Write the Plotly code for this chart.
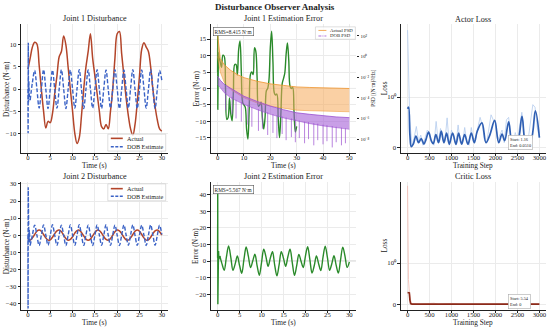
import numpy as np
import plotly.graph_objects as go

W, H = 550, 328
FONT = "Liberation Serif"

def px(x):
    return x / W

def py(y):
    return 1 - y / H

# ---------------- data ----------------
# time grid (s)
t_full = np.arange(0, 61) * 0.5          # 0 .. 30
t_main = t_full[1:]                      # 0.5 .. 30

# Joint 1 actual disturbance (N·m), t = 0..30 step 0.5
j1_actual = [4.5, 7.0, 9.5, 10.6, 10.2, 5.5, 0.0, -5.0, -8.8, -7.3, -7.6, -5.5, -1.0, 3.0, 7.3,
             8.5, 12.0, 10.0, 5.0, 0.0, -5.0, -10.0, -12.3, -11.0, -6.0, 0.0, 5.0, 8.5, 12.5,
             7.0, 3.0, -1.0, -5.0, -8.5, -9.0, -8.0, -9.0, -5.0, 0.0, 7.0, 12.5, 13.0, 8.0,
             3.0, -2.0, -6.0, -9.0, -10.5, -8.0, -3.0, 3.0, 9.0, 10.5, 9.5, 8.5, 5.0, 0.0,
             -4.0, -7.0, -9.0, -9.5]
# Joint 1 DOB estimate, t = 0.5..30
j1_dob = [-2.5, 1.5, 4.2, 0.1, -4.3, -0.1, 4.4, 0.0, -4.4, 0.1, 4.3, -0.1,
          -4.3, 0.0, 4.4, 0.1, -4.4, -0.1, 4.3, 0.0, -4.3, 0.1, 4.4, -0.1,
          -4.4, 0.0, 4.3, 0.1, -4.3, -0.1, 4.4, 0.0, -4.4, 0.1, 4.3, -0.1,
          -4.3, 0.0, 4.4, 0.1, -4.4, -0.1, 4.3, 0.0, -4.3, 0.1, 4.4, -0.1,
          -4.4, 0.0, 4.3, 0.1, -4.3, -0.1, 4.4, 0.0, -4.4, 0.1, 4.2, 2.0]
# start-up transient (t < 0.5)
j1_head_t = [0.0, 0.04, 0.08, 0.12, 0.2, 0.3, 0.5]
j1_dob_head = [0.0, -10.0, 10.5, -3.0, 1.8, -1.5, -2.5]
j1_err_head = [5.0, 16.5, -6.5, 10.0, 4.0, 11.0, 9.5]

# Joint 2 actual disturbance, t = 0..30 step 0.5
j2_actual = [-2.3, -2.9, -1.6, 0.4, 2.3, 3.0, 2.3, 0.4, -1.6, -2.9, -2.7, -1.2, 0.9, 2.5, 3.0,
             2.0, 0.0, -2.0, -3.0, -2.5, -0.9, 1.2, 2.7, 2.9, 1.6, -0.4, -2.3, -3.0, -2.3,
             -0.4, 1.6, 2.9, 2.7, 1.2, -0.9, -2.5, -3.0, -2.0, 0.0, 2.0, 3.0, 2.5, 0.9,
             -1.2, -2.7, -2.9, -1.6, 0.4, 2.3, 3.0, 2.3, 0.4, -1.6, -2.9, -2.7, -1.2, 0.9,
             2.5, 3.0, 2.0, 0.0]
j2_dob = [-6.0, 0.1, 5.9, 0.0, -6.1, -0.1, 6.0, 0.1, -5.9, 0.0, 6.1, -0.1,
          -6.0, 0.1, 5.9, 0.0, -6.1, -0.1, 6.0, 0.1, -5.9, 0.0, 6.1, -0.1,
          -6.0, 0.1, 5.9, 0.0, -6.1, -0.1, 6.0, 0.1, -5.9, 0.0, 6.1, -0.1,
          -6.0, 0.1, 5.9, 0.0, -6.1, -0.1, 6.0, 0.1, -5.9, 0.0, 6.1, -0.1,
          -6.0, 0.1, 5.9, 0.0, -6.1, -0.1, 6.0, 0.1, -5.9, 0.0, 5.8, 0.5]
j2_head_t = [0.0, 0.03, 0.06, 0.1, 0.15, 0.22, 0.3, 0.5]
j2_dob_head = [0.0, -43.0, 28.0, -15.0, 8.0, -4.0, 3.0, -6.0]
j2_err_head = [2.0, 42.0, -26.0, 15.0, -5.0, 6.0, 1.0, 3.1]

# PSD envelopes (log10 of (N·m)^2/Hz) vs frequency (Hz)
psd_f = [0, 0.5, 1, 2.5, 5, 7.5, 10, 15, 20, 25, 30, 35, 40, 45, 50]
psd_act_hi = [2.2, 0.8, -0.2, -0.8, -1.35, -1.75, -2.05, -2.4, -2.65, -2.8, -2.95, -3.0, -3.05, -3.08, -3.1]
psd_act_lo = [0.0, -0.8, -1.5, -2.5, -3.2, -3.6, -4.0, -4.5, -4.8, -5.0, -5.2, -5.25, -5.3, -5.32, -5.35]
psd_dob_hi = [-1.9, -2.1, -2.3, -2.7, -3.1, -3.5, -3.85, -4.35, -4.8, -5.15, -5.45, -5.6, -5.75, -5.85, -5.92]
psd_dob_lo = [-2.7, -2.85, -3.0, -3.5, -4.0, -4.35, -4.65, -5.15, -5.6, -5.95, -6.25, -6.5, -6.72, -6.9, -7.05]
dob_spike_f = [3, 5.5, 7, 9, 11.5, 13, 15.5, 17, 19, 21, 22.5, 24.5, 26, 28, 29.5, 31, 33, 34.5,
               36.5, 38, 40, 41.5, 43.5, 45, 47, 48.5]
dob_spike_hi = [-3.5, -3.9, -4.2, -4.4, -4.7, -4.9, -5.1, -5.3, -5.4, -5.6, -5.7, -5.8, -5.9, -6.0,
                -6.1, -6.2, -6.3, -6.35, -6.45, -6.5, -6.6, -6.65, -6.75, -6.8, -6.9, -6.95]
dob_spike_lo = [-5.2, -5.6, -6.0, -6.3, -6.6, -6.8, -7.2, -7.0, -7.6, -7.4, -7.9, -7.5, -8.1, -7.8,
                -8.3, -7.9, -8.4, -8.0, -8.6, -8.1, -8.5, -8.2, -8.8, -8.3, -8.6, -8.4]

# Actor loss
actor_raw_steps = list(range(0, 3001, 50))
actor_raw = [21.0, 0.55, 0.05, 0.2, 0.42, 0.12, 0.25, 0.05, 0.2, 0.35, 0.3, 0.1, 0.05, 0.52, 0.1,
             0.38, 0.15, 0.12, 0.59, 0.05, 0.35, 0.2, 0.05, 0.45, 0.1, 0.08, 0.4, 0.1, 0.05, 0.4,
             0.15, 0.2, 0.4, 0.6, 0.45, 0.15, 0.1, 0.35, 0.65, 0.55, 0.5, 0.15, 0.25, 0.35, 0.1,
             0.55, 0.6, 0.2, 0.05, 0.3, 0.15, 0.45, 0.7, 0.3, 0.05, 0.2, 0.55, 0.85, 0.8, 0.4, 0.2]
actor_sm_steps = [0, 23, 53, 84, 130, 190, 250, 311, 372, 418, 478, 539, 585, 645, 706, 767, 828,
                  888, 949, 1025, 1101, 1162, 1230, 1298, 1374, 1450, 1519, 1587, 1693, 1784, 1875,
                  1982, 2073, 2149, 2210, 2301, 2392, 2498, 2604, 2695, 2809, 2908, 3000]
actor_sm = [0.77, 0.80, 0.26, 0.02, 0.07, 0.23, 0.10, 0.18, 0.07, 0.16, 0.31, 0.14, 0.08, 0.26,
            0.10, 0.33, 0.10, 0.29, 0.07, 0.29, 0.07, 0.29, 0.07, 0.26, 0.07, 0.29, 0.10, 0.33,
            0.49, 0.10, 0.26, 0.54, 0.10, 0.27, 0.14, 0.51, 0.07, 0.10, 0.62, 0.07, 0.15, 0.73, 0.20]

# Critic loss
critic_raw_steps = [0, 10, 20, 40, 60, 80, 100, 150, 200, 300, 400, 500, 600, 700, 800, 900, 1000,
                    1200, 1400, 1600, 1800, 2000, 2200, 2400, 2600, 2800, 3000]
critic_raw = [74.0, 3.5, 0.6, 0.3, 0.08, 0.03, 0.02, 0.012, 0.015, 0.01, 0.012, 0.01, 0.03, 0.01,
              0.012, 0.01, 0.025, 0.01, 0.012, 0.01, 0.02, 0.01, 0.012, 0.01, 0.01, 0.012, 0.01]
critic_sm_steps = [0, 20, 40, 55, 70, 100, 200, 500, 1000, 1500, 2000, 2500, 3000]
critic_sm = [0.29, 0.29, 0.28, 0.10, 0.02, 0.01, 0.01, 0.008, 0.008, 0.007, 0.007, 0.007, 0.006]


def symlog(v):
    v = np.asarray(v, dtype=float)
    return np.where(v <= 1, v, 1 + np.log10(np.maximum(v, 1e-12)))

j1_err = np.array(j1_actual[1:]) - np.array(j1_dob)
j2_err = np.array(j2_actual[1:]) - np.array(j2_dob)

# ---------------- styling ----------------
C_ACT = "#b3452a"
C_DOB = "#3a62c6"
C_ERR = "#2a8a2a"
C_ACT_PSD = "#f0962e"
C_DOB_PSD = "#9b4fd0"
C_ACTOR = "#2f5fb3"
C_ACTOR_RAW = "#b4cbee"
C_CRITIC = "#8b2a1a"
C_CRITIC_RAW = "#f2b9ae"
AX = "#222222"

XPX = [(21.3, 168.8), (211.4, 356.6), (401.7, 547.0)]
YPX = [(22.5, 151.5), (181.0, 309.5)]
XD = [[a / W, b / W] for a, b in XPX]
YD = [[py(b), py(a)] for a, b in YPX]

fig = go.Figure()

def add(x, y, xa, ya, **kw):
    fig.add_trace(go.Scatter(x=x, y=y, xaxis=xa, yaxis=ya, mode="lines",
                             showlegend=False, hoverinfo="skip", **kw))

# Joint 1 disturbance
add(t_full, j1_actual, "x", "y", line=dict(color=C_ACT, width=1.5, shape="spline"))
add(j1_head_t, j1_dob_head, "x", "y", line=dict(color=C_DOB, width=1.4, dash="4px,2px"))
add(t_main, j1_dob, "x", "y", line=dict(color=C_DOB, width=1.4, dash="4px,2px", shape="spline"))

# Joint 1 error + PSD
add(j1_head_t, j1_err_head, "x2", "y2", line=dict(color=C_ERR, width=1.4))
add(t_main, j1_err, "x2", "y2", line=dict(color=C_ERR, width=1.4, shape="spline"))
add(psd_f, 10 ** np.array(psd_act_lo), "x2", "y7", line=dict(color=C_ACT_PSD, width=0.5))
add(psd_f, 10 ** np.array(psd_act_hi), "x2", "y7", line=dict(color=C_ACT_PSD, width=0.8),
    fill="tonexty", fillcolor="rgba(245,170,90,0.55)")
add(psd_f, 10 ** np.array(psd_dob_lo), "x2", "y7", line=dict(color=C_DOB_PSD, width=0.5))
add(psd_f, 10 ** np.array(psd_dob_hi), "x2", "y7", line=dict(color=C_DOB_PSD, width=0.8),
    fill="tonexty", fillcolor="rgba(165,95,215,0.6)")
sx, sy = [], []
for f, hi, lo in zip(dob_spike_f, dob_spike_hi, dob_spike_lo):
    sx += [f, f, None]
    sy += [10 ** hi, 10 ** lo, None]
add(sx, sy, "x2", "y7", line=dict(color=C_DOB_PSD, width=0.7))

# Actor loss
add(actor_raw_steps, symlog(actor_raw), "x3", "y3", line=dict(color=C_ACTOR_RAW, width=0.8))
add(actor_sm_steps, symlog(actor_sm), "x3", "y3", line=dict(color=C_ACTOR, width=1.7, shape="spline"))

# Joint 2 disturbance
add(t_full, j2_actual, "x4", "y4", line=dict(color=C_ACT, width=1.5, shape="spline"))
add(j2_head_t, j2_dob_head, "x4", "y4", line=dict(color=C_DOB, width=1.4, dash="4px,2px"))
add(t_main, j2_dob, "x4", "y4", line=dict(color=C_DOB, width=1.4, dash="4px,2px", shape="spline"))

# Joint 2 error
add(j2_head_t, j2_err_head, "x5", "y5", line=dict(color=C_ERR, width=1.4))
add(t_main, j2_err, "x5", "y5", line=dict(color=C_ERR, width=1.4, shape="spline"))

# Critic loss
add(critic_raw_steps, symlog(critic_raw), "x6", "y6", line=dict(color=C_CRITIC_RAW, width=0.8))
add(critic_sm_steps, symlog(critic_sm), "x6", "y6", line=dict(color=C_CRITIC, width=1.7))

TF = dict(family=FONT, size=6.7, color=AX)

def xax(dom, rng, tv, anchor):
    return dict(domain=dom, range=rng, tickvals=tv, anchor=anchor, showline=True, linecolor=AX,
                linewidth=1.2, ticks="outside", ticklen=2.5, tickwidth=1, tickcolor=AX, tickfont=TF,
                ticklabelstandoff=-4,
                showgrid=True, gridcolor="#ebebeb", gridwidth=0.6, zeroline=False)

def yax(dom, rng, tv, anchor, tt=None):
    d = dict(domain=dom, range=rng, tickvals=tv, anchor=anchor, showline=True, linecolor=AX,
             linewidth=1.2, ticks="outside", ticklen=2.5, tickwidth=1, tickcolor=AX, tickfont=TF,
             showgrid=True, gridcolor="#ebebeb", gridwidth=0.6, zeroline=False)
    if tt is not None:
        d["ticktext"] = tt
    return d

# y ranges derived from the reference's pixel scale
fig.update_layout(
    width=W, height=H, margin=dict(l=0, r=0, t=0, b=0),
    paper_bgcolor="white", plot_bgcolor="white", showlegend=False,
    font=dict(family=FONT, color=AX),
    xaxis=xax(XD[0], [-1.5, 31.5], [0, 5, 10, 15, 20, 25, 30], "y"),
    yaxis=yax(YD[0], [-14.36, 14.63], [-10, -5, 0, 5, 10], "x"),
    xaxis2=xax(XD[1], [-2.5, 52.5], [0, 10, 20, 30, 40, 50], "y2"),
    yaxis2=yax(YD[0], [-19.47, 19.47], [-15, -10, -5, 0, 5, 10, 15], "x2"),
    xaxis3=xax(XD[2], [-150, 3150], [0, 500, 1000, 1500, 2000, 2500, 3000], "y3"),
    yaxis3=yax(YD[0], [-0.095, 2.435], [0, 1], "x3", ["0", "10⁰"]),
    xaxis4=xax(XD[0], [-1.5, 31.5], [0, 5, 10, 15, 20, 25, 30], "y4"),
    yaxis4=yax(YD[1], [-43.6, 31.2], [-40, -30, -20, -10, 0, 10, 20, 30], "x4"),
    xaxis5=xax(XD[1], [-1.5, 31.5], [0, 5, 10, 15, 20, 25, 30], "y5"),
    yaxis5=yax(YD[1], [-29.2, 47.6], [-20, -10, 0, 10, 20, 30, 40], "x5"),
    xaxis6=xax(XD[2], [-150, 3150], [0, 500, 1000, 1500, 2000, 2500, 3000], "y6"),
    yaxis6=yax(YD[1], [-0.125, 2.964], [0, 1], "x6", ["0", "10⁰"]),
    yaxis7=dict(overlaying="y2", side="right", anchor="x2", type="log", range=[-9.30, 3.106],
                tickvals=[1e2, 1e0, 1e-2, 1e-4, 1e-6, 1e-8],
                ticktext=["10²", "10⁰", "10⁻²", "10⁻⁴", "10⁻⁶", "10⁻⁸"],
                ticks="outside", ticklen=2.5, tickwidth=0.8, tickcolor=AX, showline=False,
                showgrid=False, tickfont=dict(family=FONT, size=5, color=AX)),
)

shapes = []
# zero reference lines in error panels
for ax in ["2", "5"]:
    shapes.append(dict(type="line", xref="x%s domain" % ax, yref="y" + ax, x0=0, x1=1, y0=0, y1=0,
                       line=dict(color="#b8b8b8", width=0.8), layer="below"))

anns = []
def text(x, y, s, size, anchor="center", bold=False, angle=0):
    anns.append(dict(x=px(x), y=py(y), xref="paper", yref="paper", text=("<b>%s</b>" % s) if bold else s,
                     showarrow=False, xanchor=anchor, yanchor="middle", textangle=angle,
                     font=dict(family=FONT, size=size, color=AX)))

text(275, 5.5, "Disturbance Observer Analysis", 9, bold=True)
text(95, 17, "Joint 1 Disturbance", 8.2)
text(284, 17, "Joint 1 Estimation Error", 8.2)
text(474, 17.5, "Actor Loss", 8.2)
text(95, 176, "Joint 2 Disturbance", 8.2)
text(284, 176, "Joint 2 Estimation Error", 8.2)
text(474, 176, "Critic Loss", 8.2)

# axis titles
for r, yt in enumerate([164.0, 322.5]):
    text(sum(XPX[0]) / 2, yt, "Time (s)", 7.3)
    text(sum(XPX[1]) / 2, yt, "Time (s)", 7.3)
    text(sum(XPX[2]) / 2, yt, "Training Step", 7.3)
    yc = sum(YPX[r]) / 2
    text(6.5, yc, "Disturbance (N·m)", 7.3, angle=-90)
    text(196.5, yc, "Error (N·m)", 7.3, angle=-90)
    text(385.5, yc, "Loss", 7.3, angle=-90)
text(374, sum(YPX[0]) / 2, "PSD [(N·m)²/Hz]", 5.3, angle=-90)

# manual legends
def legend(x0, y0, x1, y1, entries, size, lx0, lx1, tx):
    shapes.append(dict(type="rect", xref="paper", yref="paper", x0=px(x0), x1=px(x1), y0=py(y1), y1=py(y0),
                       fillcolor="rgba(255,255,255,0.85)", line=dict(color="#c8c8c8", width=0.6)))
    for (label, color, dash, width, yy) in entries:
        shapes.append(dict(type="line", xref="paper", yref="paper", x0=px(lx0), x1=px(lx1),
                           y0=py(yy), y1=py(yy), line=dict(color=color, width=width, dash=dash)))
        text(tx, yy, label, size, anchor="left")

legend(108, 133, 166, 150, [("Actual", C_ACT, "solid", 1.6, 137.2), ("DOB Estimate", C_DOB, "3px,1.5px", 1.4, 145.6)],
       6.2, 111, 123, 125.5)
legend(108, 183, 166, 200, [("Actual", C_ACT, "solid", 1.6, 187.8), ("DOB Estimate", C_DOB, "3px,1.5px", 1.4, 195.5)],
       6.2, 111, 123, 125.5)
legend(316, 25, 356, 37.5, [("Actual PSD", C_ACT_PSD, "solid", 0.8, 28.6), ("DOB PSD", C_DOB_PSD, "3px,1px,1px,1px", 0.8, 34.2)],
       4.8, 319, 327, 329)

# RMS boxes
for (x, y, s) in [(213, 30, "RMS=8.415 N·m"), (213, 188.3, "RMS=5.567 N·m")]:
    anns.append(dict(x=px(x), y=py(y), xref="paper", yref="paper", text=s, showarrow=False,
                     xanchor="left", yanchor="middle", font=dict(family=FONT, size=5.3, color=AX),
                     bgcolor="white", bordercolor="#555", borderwidth=0.6, borderpad=1))
# start/end boxes
for (y, s) in [(141, "Start: 1.16<br>End: 0.0510"), (301, "Start: 5.54<br>End: 0")]:
    anns.append(dict(x=px(508.5), y=py(y), xref="paper", yref="paper", text=s, showarrow=False,
                     xanchor="left", yanchor="middle", align="left",
                     font=dict(family=FONT, size=4.3, color=AX),
                     bgcolor="white", bordercolor="#aaaaaa", borderwidth=0.6, borderpad=1.5))

fig.update_layout(shapes=shapes, annotations=anns)
fig.write_html("out.html", config={"displayModeBar": False},
               post_script="document.body.style.margin='0';document.body.style.padding='0';")
